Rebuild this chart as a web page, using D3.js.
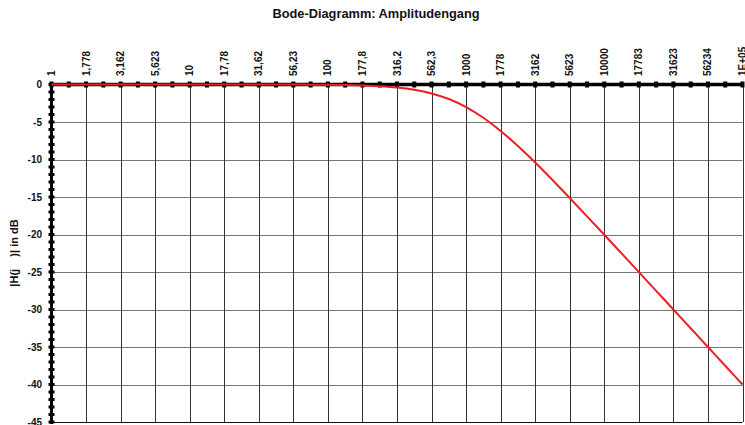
<!DOCTYPE html>
<html>
<head>
<meta charset="utf-8">
<script src="https://cdn.jsdelivr.net/npm/d3@7"></script>
<style>
  html, body { margin: 0; padding: 0; background: #fff; }
  svg { display: block; font-family: Arial, "Liberation Sans", sans-serif; }
</style>
</head>
<body>
<svg id="chart" width="745" height="425"></svg>
<script>
// Frequency points (eighth-decade steps, 1 Hz … 100 kHz)
const frequencies = [
  1, 1.334, 1.778, 2.371, 3.162, 4.217, 5.623, 7.499,
  10, 13.34, 17.78, 23.71, 31.62, 42.17, 56.23, 74.99,
  100, 133.4, 177.8, 237.1, 316.2, 421.7, 562.3, 749.9,
  1000, 1334, 1778, 2371, 3162, 4217, 5623, 7499,
  10000, 13335, 17783, 23714, 31623, 42170, 56234, 74989,
  100000
];

// Magnitude |H(jω)| in dB at each frequency point
const magnitudeDb = [
  0, 0, 0, 0, 0, 0, 0, 0,
  0, 0, 0, 0, 0, -0.01, -0.01, -0.02,
  -0.04, -0.08, -0.14, -0.24, -0.41, -0.71, -1.19, -1.94,
  -3.01, -4.44, -6.19, -8.21, -10.41, -12.74, -15.14, -17.58,
  -20.04, -22.52, -25.01, -27.51, -30.0, -32.5, -35.0, -37.5,
  -40.0
];

// Category labels shown on every second point
const tickLabels = [
  "1", "", "1,778", "", "3,162", "", "5,623", "",
  "10", "", "17,78", "", "31,62", "", "56,23", "",
  "100", "", "177,8", "", "316,2", "", "562,3", "",
  "1000", "", "1778", "", "3162", "", "5623", "",
  "10000", "", "17783", "", "31623", "", "56234", "",
  "1E+05"
];

const yTicks = [0, -5, -10, -15, -20, -25, -30, -35, -40, -45];

const svg = d3.select("#chart");

const plotLeft = 51.5, plotRight = 742.5, plotTop = 84.5, plotBottom = 422;

const x = d3.scalePoint()
  .domain(d3.range(frequencies.length))
  .range([plotLeft, plotRight]);

const y = d3.scaleLinear()
  .domain([-45, 0])
  .range([plotBottom, plotTop]);

// Title
svg.append("text")
  .attr("x", 376)
  .attr("y", 18)
  .attr("text-anchor", "middle")
  .attr("font-size", 12.8)
  .attr("font-weight", "bold")
  .attr("fill", "#111")
  .text("Bode-Diagramm: Amplitudengang");

// Horizontal gridlines
svg.append("g")
  .selectAll("line")
  .data(yTicks)
  .join("line")
  .attr("x1", plotLeft).attr("x2", plotRight)
  .attr("y1", d => Math.round(y(d)) + 0.5)
  .attr("y2", d => Math.round(y(d)) + 0.5)
  .attr("stroke", d => d === -45 ? "#111" : "#777")
  .attr("stroke-width", 1);

// Vertical gridlines at labelled categories
const labelled = d3.range(frequencies.length).filter(i => tickLabels[i] !== "");
svg.append("g")
  .selectAll("line")
  .data(labelled)
  .join("line")
  .attr("x1", i => Math.round(x(i)) + 0.5)
  .attr("x2", i => Math.round(x(i)) + 0.5)
  .attr("y1", plotTop).attr("y2", plotBottom)
  .attr("stroke", "#333")
  .attr("stroke-width", 1);

// Left value axis: thick line with dense tick marks
const yAxis = svg.append("g");
yAxis.append("line")
  .attr("x1", plotLeft).attr("x2", plotLeft)
  .attr("y1", plotTop).attr("y2", plotBottom + 2)
  .attr("stroke", "#000").attr("stroke-width", 3);
yAxis.selectAll("rect.minor")
  .data(d3.range(-45, 1, 1))
  .join("rect")
  .attr("x", plotLeft - 3)
  .attr("y", d => y(d) - 1.5)
  .attr("width", 6)
  .attr("height", 3)
  .attr("fill", "#000");
yAxis.selectAll("text")
  .data(yTicks)
  .join("text")
  .attr("x", 42)
  .attr("y", d => y(d) + 3.5)
  .attr("text-anchor", "end")
  .attr("font-size", 10)
  .attr("font-weight", "bold")
  .attr("fill", "#111")
  .text(d => d);

// Y axis title
svg.append("text")
  .attr("transform", `translate(18, 253) rotate(-90)`)
  .attr("text-anchor", "middle")
  .attr("font-size", 11)
  .attr("font-weight", "bold")
  .attr("fill", "#111")
  .attr("xml:space", "preserve")
  .style("white-space", "pre")
  .text("|H(j    )| in dB");

// Top category axis: thick line with tick marks on every point
const xAxis = svg.append("g");
xAxis.append("line")
  .attr("x1", plotLeft - 1.5).attr("x2", plotRight)
  .attr("y1", plotTop).attr("y2", plotTop)
  .attr("stroke", "#000").attr("stroke-width", 3.5);
xAxis.selectAll("rect")
  .data(d3.range(frequencies.length))
  .join("rect")
  .attr("x", i => x(i) - 2)
  .attr("y", plotTop - 3)
  .attr("width", 4)
  .attr("height", 6)
  .attr("fill", "#000");
xAxis.selectAll("text")
  .data(labelled)
  .join("text")
  .attr("transform", i => `translate(${x(i) + 3.5}, 76) rotate(-90)`)
  .attr("text-anchor", "start")
  .attr("font-size", 10)
  .attr("font-weight", "bold")
  .attr("fill", "#111")
  .text(i => tickLabels[i]);

// Magnitude curve
const line = d3.line()
  .x((d, i) => x(i))
  .y(d => y(d))
  .curve(d3.curveMonotoneX);

svg.append("path")
  .datum(magnitudeDb)
  .attr("d", line)
  .attr("fill", "none")
  .attr("stroke", "#ee1d25")
  .attr("stroke-width", 2);
</script>
</body>
</html>
